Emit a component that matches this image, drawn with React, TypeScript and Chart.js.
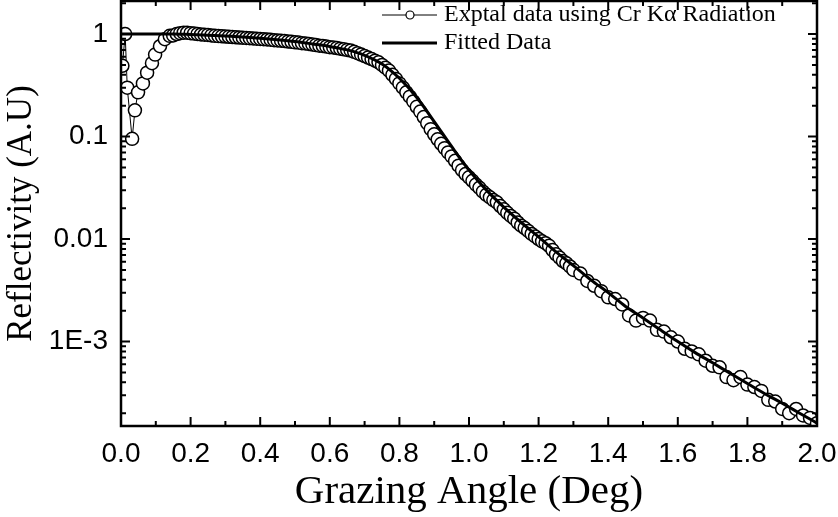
import { useEffect, useRef } from "react";
import { Chart, registerables } from "chart.js";

Chart.register(...registerables);

// measured points (grazing angle in degrees, reflectivity in A.U)
const EXP_ANGLE = [
  0.004, 0.012, 0.018, 0.032, 0.04, 0.049, 0.063, 0.075, 0.089, 0.098, 0.112, 0.126, 0.14,
  0.15, 0.16, 0.17, 0.18, 0.19, 0.2, 0.21, 0.22, 0.23, 0.24, 0.25, 0.26, 0.27, 0.28, 0.29,
  0.3, 0.31, 0.32, 0.33, 0.34, 0.35, 0.36, 0.37, 0.38, 0.39, 0.4, 0.41, 0.42, 0.43, 0.44,
  0.45, 0.46, 0.47, 0.48, 0.49, 0.5, 0.51, 0.52, 0.53, 0.54, 0.55, 0.56, 0.57, 0.58, 0.59,
  0.6, 0.61, 0.62, 0.63, 0.64, 0.65, 0.66, 0.67, 0.68, 0.69, 0.7, 0.71, 0.72, 0.73, 0.74,
  0.75, 0.76, 0.77, 0.78, 0.79, 0.8, 0.81, 0.82, 0.83, 0.84, 0.85, 0.86, 0.87, 0.88, 0.89,
  0.9, 0.91, 0.92, 0.93, 0.94, 0.95, 0.96, 0.97, 0.98, 0.99, 1.0, 1.01, 1.02, 1.03, 1.04,
  1.05, 1.06, 1.07, 1.08, 1.09, 1.1, 1.11, 1.12, 1.13, 1.14, 1.15, 1.16, 1.17, 1.18, 1.19,
  1.2, 1.21, 1.22, 1.23, 1.24, 1.25, 1.26, 1.27, 1.28, 1.29, 1.3,
  1.32, 1.34, 1.36, 1.38, 1.4, 1.42, 1.44, 1.46, 1.48, 1.5, 1.52, 1.54, 1.56, 1.58, 1.6,
  1.62, 1.64, 1.66, 1.68, 1.7, 1.72, 1.74, 1.76, 1.78, 1.8, 1.82, 1.84, 1.86, 1.88, 1.9,
  1.92, 1.94, 1.96, 1.98, 2.0,
];
const EXP_REFLECTIVITY = [
  0.49, 1.0, 0.3, 0.095, 0.18, 0.27, 0.33, 0.42, 0.52, 0.63, 0.76, 0.89, 0.96,
  0.97, 1.0, 1.02, 1.03, 1.03, 1.02, 1.01, 1.0, 0.99, 0.985, 0.98, 0.97, 0.96, 0.955, 0.95,
  0.945, 0.94, 0.935, 0.93, 0.925, 0.92, 0.915, 0.91, 0.905, 0.9, 0.895, 0.89, 0.885, 0.88, 0.87,
  0.865, 0.86, 0.855, 0.845, 0.84, 0.83, 0.825, 0.815, 0.81, 0.8, 0.79, 0.78, 0.77, 0.765, 0.755,
  0.745, 0.74, 0.73, 0.72, 0.71, 0.7, 0.69, 0.67, 0.65, 0.63, 0.61, 0.59, 0.57, 0.55, 0.53,
  0.5, 0.47, 0.44, 0.4, 0.365, 0.33, 0.3, 0.27, 0.245, 0.22, 0.195, 0.175, 0.155, 0.135, 0.118,
  0.105, 0.094, 0.085, 0.077, 0.07, 0.064, 0.058, 0.052, 0.047, 0.043, 0.04, 0.037, 0.034, 0.0316, 0.029,
  0.027, 0.0255, 0.024, 0.0228, 0.021, 0.0195, 0.018, 0.0168, 0.0158, 0.0145, 0.0135, 0.0128, 0.012, 0.0112, 0.0106,
  0.01, 0.0095, 0.0091, 0.0086, 0.0078, 0.0071, 0.0066, 0.0061, 0.0058, 0.0054, 0.005,
  0.0046, 0.0039, 0.0035, 0.0031, 0.0027, 0.0026, 0.0023, 0.0018, 0.0016, 0.0017, 0.0016, 0.0013, 0.00125, 0.0011, 0.001,
  0.00085, 0.0008, 0.00075, 0.00065, 0.00058, 0.00056, 0.00045, 0.00042, 0.00045, 0.00038, 0.00036, 0.00033, 0.00027, 0.00026, 0.00022,
  0.0002, 0.00022, 0.00019, 0.00018, 0.00016,
];

// fitted curve
const FIT_ANGLE = [
  0, 0.05, 0.1, 0.15, 0.2, 0.25, 0.3, 0.35, 0.4, 0.45, 0.5, 0.55, 0.6, 0.65, 0.7, 0.75, 0.8,
  0.85, 0.9, 0.95, 1.0, 1.05, 1.1, 1.15, 1.2, 1.25, 1.3, 1.35, 1.4, 1.45, 1.5, 1.55, 1.6,
  1.65, 1.7, 1.75, 1.8, 1.85, 1.9, 1.95, 2.0,
];
const FIT_REFLECTIVITY = [
  1.0, 1.0, 1.0, 1.0, 0.99, 0.975, 0.955, 0.935, 0.91, 0.88, 0.845, 0.8, 0.755, 0.7, 0.62, 0.51, 0.37,
  0.24, 0.14, 0.08, 0.047, 0.03, 0.0205, 0.0145, 0.0105, 0.0075, 0.0055, 0.004, 0.003, 0.0022, 0.0017, 0.0013, 0.001,
  0.00078, 0.00062, 0.00049, 0.00039, 0.00031, 0.00025, 0.0002, 0.00016,
];

const Y_TICK_VALUES = [1, 0.1, 0.01, 0.001];
const Y_TICK_LABELS = ["1", "0.1", "0.01", "1E-3"];
const LEGEND_LABELS = ["Exptal data using Cr K\u03b1 Radiation", "Fitted Data"];

const SANS = "'Liberation Sans', Arial, sans-serif";
const SERIF = "'Liberation Serif', 'Times New Roman', serif";

// box around the plot with inward ticks on all four sides, plus the legend
const framePlugin = {
  id: "frame",
  afterDatasetsDraw(chart: any) {
    const { ctx, chartArea: a, scales } = chart;
    const xs = scales.x;
    const ys = scales.y;
    ctx.save();
    ctx.strokeStyle = "#000";
    ctx.lineWidth = 2;
    ctx.beginPath();
    for (let i = 0; i <= 20; i++) {
      const px = xs.getPixelForValue(i / 10);
      const len = i % 2 === 0 ? 9 : 5;
      ctx.moveTo(px, a.bottom);
      ctx.lineTo(px, a.bottom - len);
      ctx.moveTo(px, a.top);
      ctx.lineTo(px, a.top + len);
    }
    for (let e = -4; e <= 0; e++) {
      for (let k = 1; k <= 9; k++) {
        const v = k * Math.pow(10, e);
        if (v < ys.min || v > ys.max) continue;
        const py = ys.getPixelForValue(v);
        const len = k === 1 ? 9 : 5;
        ctx.moveTo(a.left, py);
        ctx.lineTo(a.left + len, py);
        ctx.moveTo(a.right, py);
        ctx.lineTo(a.right - len, py);
      }
    }
    ctx.stroke();
    ctx.lineWidth = 2.5;
    ctx.strokeRect(a.left, a.top, a.right - a.left, a.bottom - a.top);
    ctx.restore();
  },
  afterDraw(chart: any) {
    const { ctx, chartArea: a } = chart;
    const x0 = a.right - 435;
    const rows = [a.top + 14, a.top + 42];
    ctx.save();
    ctx.strokeStyle = "#000";
    ctx.lineWidth = 1;
    ctx.beginPath();
    ctx.moveTo(x0, rows[0]);
    ctx.lineTo(x0 + 55, rows[0]);
    ctx.stroke();
    ctx.beginPath();
    ctx.fillStyle = "#fff";
    ctx.arc(x0 + 28, rows[0], 4, 0, Math.PI * 2);
    ctx.fill();
    ctx.lineWidth = 1.2;
    ctx.stroke();
    ctx.lineWidth = 3;
    ctx.beginPath();
    ctx.moveTo(x0, rows[1]);
    ctx.lineTo(x0 + 55, rows[1]);
    ctx.stroke();
    ctx.fillStyle = "#000";
    ctx.font = `24px ${SERIF}`;
    ctx.textBaseline = "middle";
    ctx.textAlign = "left";
    ctx.fillText(LEGEND_LABELS[0], x0 + 62, rows[0]);
    ctx.fillText(LEGEND_LABELS[1], x0 + 62, rows[1]);
    ctx.restore();
  },
};

export default function App() {
  const canvasRef = useRef<HTMLCanvasElement>(null);

  useEffect(() => {
    document.body.style.margin = "0";
    if (!canvasRef.current) return;
    const ctx = canvasRef.current.getContext("2d");
    if (!ctx) return;
    const chart = new Chart(ctx, {
      type: "line",
      data: {
        datasets: [
          {
            label: LEGEND_LABELS[1],
            data: FIT_ANGLE.map((x, i) => ({ x, y: FIT_REFLECTIVITY[i] })),
            borderColor: "#000",
            borderWidth: 3,
            pointRadius: 0,
            cubicInterpolationMode: "monotone",
          },
          {
            label: LEGEND_LABELS[0],
            data: EXP_ANGLE.map((x, i) => ({ x, y: EXP_REFLECTIVITY[i] })),
            borderColor: "#000",
            borderWidth: 1,
            pointRadius: 6.5,
            pointBorderWidth: 1.5,
            pointBackgroundColor: "#fff",
            pointBorderColor: "#000",
          },
        ],
      },
      options: {
        animation: false,
        responsive: true,
        maintainAspectRatio: false,
        events: [],
        layout: { autoPadding: false, padding: { top: 1, right: 21, bottom: 0, left: 0 } },
        plugins: { legend: { display: false }, tooltip: { enabled: false } },
        scales: {
          x: {
            type: "linear",
            min: 0,
            max: 2,
            grid: { display: false, drawTicks: false },
            border: { display: false },
            ticks: {
              stepSize: 0.2,
              autoSkip: false,
              maxRotation: 0,
              padding: 11,
              color: "#000",
              font: { family: SANS, size: 28 },
              callback: (v: any) => Number(v).toFixed(1),
            },
            title: {
              display: true,
              text: "Grazing Angle (Deg)",
              color: "#000",
              font: { family: SERIF, size: 41 },
              padding: { top: 0, bottom: 0 },
            },
            afterFit: (s: any) => {
              s.height = 91;
              s.paddingLeft = 0;
              s.paddingRight = 0;
            },
          },
          y: {
            type: "logarithmic",
            min: 1.5e-4,
            max: 2.1,
            grid: { display: false, drawTicks: false },
            border: { display: false },
            afterBuildTicks: (s: any) => {
              s.ticks = Y_TICK_VALUES.map((value) => ({ value }));
            },
            ticks: {
              autoSkip: false,
              padding: 13,
              color: "#000",
              font: { family: SANS, size: 28 },
              callback: (_v: any, i: number) => Y_TICK_LABELS[i],
            },
            title: {
              display: true,
              text: "Reflectivity (A.U)",
              color: "#000",
              font: { family: SERIF, size: 35 },
              padding: { top: 1, bottom: 0 },
            },
            afterFit: (s: any) => {
              s.width = 121;
              s.paddingTop = 0;
              s.paddingBottom = 0;
            },
          },
        },
      },
      plugins: [framePlugin],
    });
    return () => chart.destroy();
  }, []);

  return (
    <div style={{ position: "relative", width: 838, height: 517 }}>
      <canvas ref={canvasRef} />
    </div>
  );
}
